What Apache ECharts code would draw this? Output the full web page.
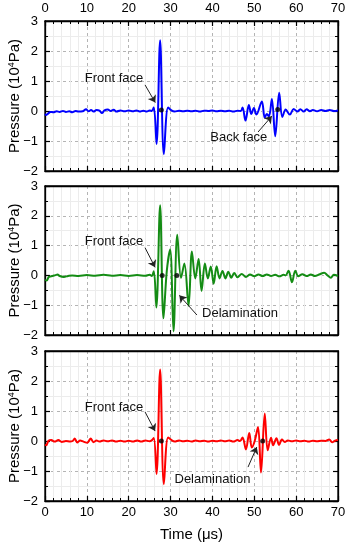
<!DOCTYPE html>
<html><head><meta charset="utf-8">
<script src="https://cdn.jsdelivr.net/npm/echarts@6/dist/echarts.min.js"></script>
<style>html,body{margin:0;padding:0;background:#fff}#c{width:348px;height:550px}</style>
</head><body><div id="c"></div>
<script>
// Time ticks
const timeTicks = [0, 10, 20, 30, 40, 50, 60, 70];
const pressureTicks = [-2, -1, 0, 1, 2, 3];

// Panel (a) – blue
const timeA = [0,0.3,0.8,1.3,2,2.8,3.5,4.3,5,5.8,6.5,7.3,8,9,9.8,10.4,11,11.6,12.3,13,13.6,14.2,15,15.7,16.4,17.1,18,19,20,21,21.8,22.6,23.5,24.3,25,25.5,26.0,26.65,27.5,28.4,29.4,30.2,31,32,33,34,35,36,37,38,39,40,41,42,43,44,45,46,46.8,47.2,47.9,48.7,49.3,49.9,50.5,51.8,52.5,53.0,53.5,54.2,55.0,55.95,56.7,57.5,58.5,59.4,60.3,61.0,61.8,62.5,63.3,64,65,66,67,68,69,70];
const presA = [-0.10,-0.13,-0.08,-0.03,-0.04,-0.01,-0.03,0.0,-0.03,-0.01,-0.04,0.0,-0.02,-0.01,0.06,-0.01,0.03,-0.02,0.03,0.01,-0.07,0.02,0.05,0.0,0.04,-0.02,0.02,-0.01,0.02,-0.01,0.02,-0.02,0.01,-0.02,0.02,0.0,0.12,-1.10,2.36,-1.44,0.12,0.02,-0.02,0.01,-0.01,0.01,-0.01,0.01,-0.02,0.01,0.0,0.02,-0.01,0.01,-0.01,0.01,-0.02,0.01,0.0,0.12,-0.32,0.2,-0.1,0.1,-0.12,0.32,-0.22,-0.1,-0.18,0.4,-0.84,0.61,-0.2,0.05,-0.12,0.07,-0.02,0.06,-0.02,0.06,-0.01,0.03,-0.01,0.03,0.0,0.03,0.0,0.02];
const dotsA = [[27.8, 0.03], [55.6, 0.05]];

// Panel (b) – green
const timeB = [0,0.4,0.9,1.5,2.5,3,3.5,4.5,5.5,6.5,8,10,12,14,16,18,20,22,24,25,25.5,26.0,26.6,27.5,28.3,29.1,29.9,30.7,31.6,32.5,33.3,34.3,35.1,35.9,36.7,37.4,38.2,38.9,39.6,40.3,41.0,41.7,42.4,43.1,43.8,44.5,45.2,46,47,48,49,50,51,52,53,54,55,56,57,57.5,58.2,59.0,59.8,60.5,61.5,62.5,63.5,64.5,65.5,66.7,67.5,68.3,69,70];
const presB = [-0.15,-0.17,-0.05,-0.03,0.01,0.03,-0.02,-0.05,-0.02,0,-0.02,0.01,-0.01,0.02,-0.01,0.01,-0.02,0.01,-0.01,0.02,-0.02,0.14,-1.08,2.35,-1.44,0.15,0.87,-1.88,1.36,-0.08,0.4,-1.02,0.8,-0.1,0.55,-0.52,0.4,-0.1,0.3,-0.28,0.31,-0.1,0.15,-0.1,0.12,-0.08,0.08,-0.06,0.05,-0.05,0.03,-0.03,0.03,-0.02,0.03,-0.02,0.02,-0.03,0.02,0.0,0.16,-0.23,0.16,-0.03,0.04,-0.02,0.03,-0.02,0.03,0.09,0.0,-0.08,0.02,-0.02];
const dotsB = [[28.0, 0], [31.5, 0]];

// Panel (c) – red
const timeC = [0,0.3,0.8,1.5,2.3,3.2,4,5,6,6.6,7.1,7.7,8.4,9.2,10.1,10.9,11.6,12.3,13,14,15,16,17,18,19,20,21,22,23,24,25,25.5,26.0,26.65,27.5,28.4,29.4,30.3,31,32,33,34,35,36,37,38,39,40,41,42,43,44,45,46,46.6,47.2,48.0,48.8,49.4,50.1,50.9,51.6,52.5,53.2,54.0,54.5,55.3,55.9,56.6,57.3,58,59,60,61,62,63,64,65,66,67,67.9,68.6,69.3,70];
const presC = [-0.12,-0.14,0.0,0.03,-0.02,0.03,-0.03,0.0,-0.02,0.0,0.08,-0.05,0.02,-0.02,-0.06,0.08,-0.04,0.02,-0.02,0.02,-0.01,0.02,-0.02,0.01,-0.02,0.01,-0.02,0.02,-0.02,0.02,-0.01,0.02,0.1,-1.1,2.38,-1.44,0.12,0.02,-0.02,0.02,-0.01,0.01,-0.02,0.02,-0.01,0.01,-0.02,0.01,-0.01,0.02,-0.01,0.02,-0.02,0.03,0.0,0.12,-0.28,0.27,-0.22,0.0,0.47,-1.05,0.92,-0.31,0.11,-0.14,0.09,-0.13,0.05,-0.03,0.02,-0.01,0.02,-0.01,0.01,-0.02,0.01,-0.01,0.01,0.0,0.05,-0.04,0.01,0.03];
const dotsC = [[27.8, 0], [52.0, 0]];

// Annotations (data coordinates): text [t, p, label], arrows [t1, p1, t2, p2, curveness]
const textA = [[16.5, 1.1, 'Front face'], [46.3, -0.87, 'Back face']];
const arrowA = [[23.9, 0.87, 26.35, 0.28, 0.15], [50.9, -0.7, 54.2, -0.17, -0.2]];
const textB = [[16.5, 1.13, 'Front face'], [46.6, -1.27, 'Delamination']];
const arrowB = [[23.9, 0.93, 26.3, 0.27, 0.15], [36.3, -1.33, 32.1, -0.67, -0.3]];
const textC = [[16.5, 1.13, 'Front face'], [40.0, -1.27, 'Delamination']];
const arrowC = [[23.9, 0.97, 26.3, 0.33, 0.15], [48.5, -0.87, 50.6, -0.2, -0.25]];

const colors = ['#0000ff', '#148c14', '#ff0000'];
const font = 'Liberation Sans, Arial, sans-serif';

const chart = echarts.init(document.getElementById('c'), null, {renderer: 'canvas'});

const grids = [
  {left: 45, right: 10, top: 21, height: 150},
  {left: 45, right: 10, top: 186, height: 149},
  {left: 45, right: 10, top: 351, height: 150}
].map(g => Object.assign(g, {show: true, borderColor: '#000', borderWidth: 1.3, containLabel: false, outerBoundsMode: 'none'}));

const minus = v => String(v).replace('-', '\u2212');
const xAxes = [], yAxes = [], series = [];
const panels = [[timeA, presA, dotsA, textA, arrowA], [timeB, presB, dotsB, textB, arrowB], [timeC, presC, dotsC, textC, arrowC]];

panels.forEach((p, i) => {
  xAxes.push({
    type: 'value', gridIndex: i, min: timeTicks[0], max: timeTicks[timeTicks.length - 1], interval: 10,
    position: 'bottom',
    axisLine: {show: true, onZero: false, lineStyle: {color: '#000', width: 1.3}},
    axisTick: {show: true, inside: true, length: 5, lineStyle: {color: '#000', width: 1.2}},
    minorTick: {show: true, splitNumber: 5, length: 3, lineStyle: {color: '#000', width: 1}},
    axisLabel: {show: i === 2, fontSize: 13, color: '#000', margin: 5, fontFamily: font},
    splitLine: {show: true, lineStyle: {color: '#b4b4b4', type: [3, 3], width: 1}},
    minorSplitLine: {show: true, lineStyle: {color: '#ececec', width: 1}},
    name: i === 2 ? 'Time (\u03bcs)' : '', nameLocation: 'middle', nameGap: 26, nameMoveOverlap: false,
    nameTextStyle: {fontSize: 15, color: '#000', fontFamily: font}
  });
  xAxes.push({
    type: 'value', gridIndex: i, min: 0, max: 70, interval: 10, position: 'top',
    axisLine: {show: true, onZero: false, lineStyle: {color: '#000', width: 1.3}},
    axisTick: {show: i === 0, inside: true, length: 5, lineStyle: {color: '#000', width: 1.2}},
    minorTick: {show: i === 0, splitNumber: 5, length: 3, lineStyle: {color: '#000', width: 1}},
    axisLabel: {show: i === 0, fontSize: 13, color: '#000', margin: 6, fontFamily: font},
    splitLine: {show: false}
  });
  yAxes.push({
    type: 'value', gridIndex: i, min: pressureTicks[0], max: pressureTicks[pressureTicks.length - 1], interval: 1,
    position: 'left',
    axisLine: {show: true, onZero: false, lineStyle: {color: '#000', width: 1.3}},
    axisTick: {show: true, inside: true, length: 5, lineStyle: {color: '#000', width: 1.2}},
    minorTick: {show: true, splitNumber: 2, length: 3, lineStyle: {color: '#000', width: 1}},
    axisLabel: {fontSize: 13, color: '#000', margin: 7, formatter: minus, fontFamily: font},
    splitLine: {show: true, lineStyle: {color: '#b4b4b4', type: [3, 3], width: 1}},
    minorSplitLine: {show: true, lineStyle: {color: '#ececec', width: 1}},
    name: 'Pressure (10{sup|4}Pa)', nameLocation: 'middle', nameGap: 23, nameMoveOverlap: false,
    nameTextStyle: {fontSize: 15, color: '#000', fontFamily: font,
      rich: {sup: {fontSize: 9, verticalAlign: 'top', color: '#000', fontFamily: font}}}
  });
  yAxes.push({
    type: 'value', gridIndex: i, min: -2, max: 3, interval: 1, position: 'right',
    axisLine: {show: true, onZero: false, lineStyle: {color: '#000', width: 1.3}},
    axisTick: {show: true, inside: true, length: 5, lineStyle: {color: '#000', width: 1.2}},
    minorTick: {show: true, splitNumber: 2, length: 3, lineStyle: {color: '#000', width: 1}},
    axisLabel: {show: false}, splitLine: {show: false}
  });
  const [t, v, dots, texts, arrows] = p;
  series.push({
    type: 'line', xAxisIndex: 2 * i, yAxisIndex: 2 * i,
    data: t.map((x, k) => [x, v[k]]), showSymbol: false, smooth: 0.35,
    lineStyle: {color: colors[i], width: 2}, itemStyle: {color: colors[i]},
    markLine: {
      silent: true, symbol: ['none', 'arrow'], symbolSize: 7, animation: false,
      label: {show: false},
      lineStyle: {color: '#222', width: 1, type: 'solid'},
      data: arrows.map(a => [{coord: [a[0], a[1]], lineStyle: {curveness: a[4]}}, {coord: [a[2], a[3]]}])
    },
    markPoint: {
      silent: true, symbol: 'rect', symbolSize: 0, animation: false,
      label: {show: true, position: 'inside', formatter: '{b}', fontSize: 13, color: '#111', fontFamily: font},
      data: texts.map(a => ({coord: [a[0], a[1]], name: a[2]}))
    }
  });
  series.push({
    type: 'scatter', xAxisIndex: 2 * i, yAxisIndex: 2 * i, data: dots,
    symbolSize: 5, itemStyle: {color: '#000'}, z: 5
  });
});

chart.setOption({animation: false, grid: grids, xAxis: xAxes, yAxis: yAxes, series: series});
</script></body></html>
